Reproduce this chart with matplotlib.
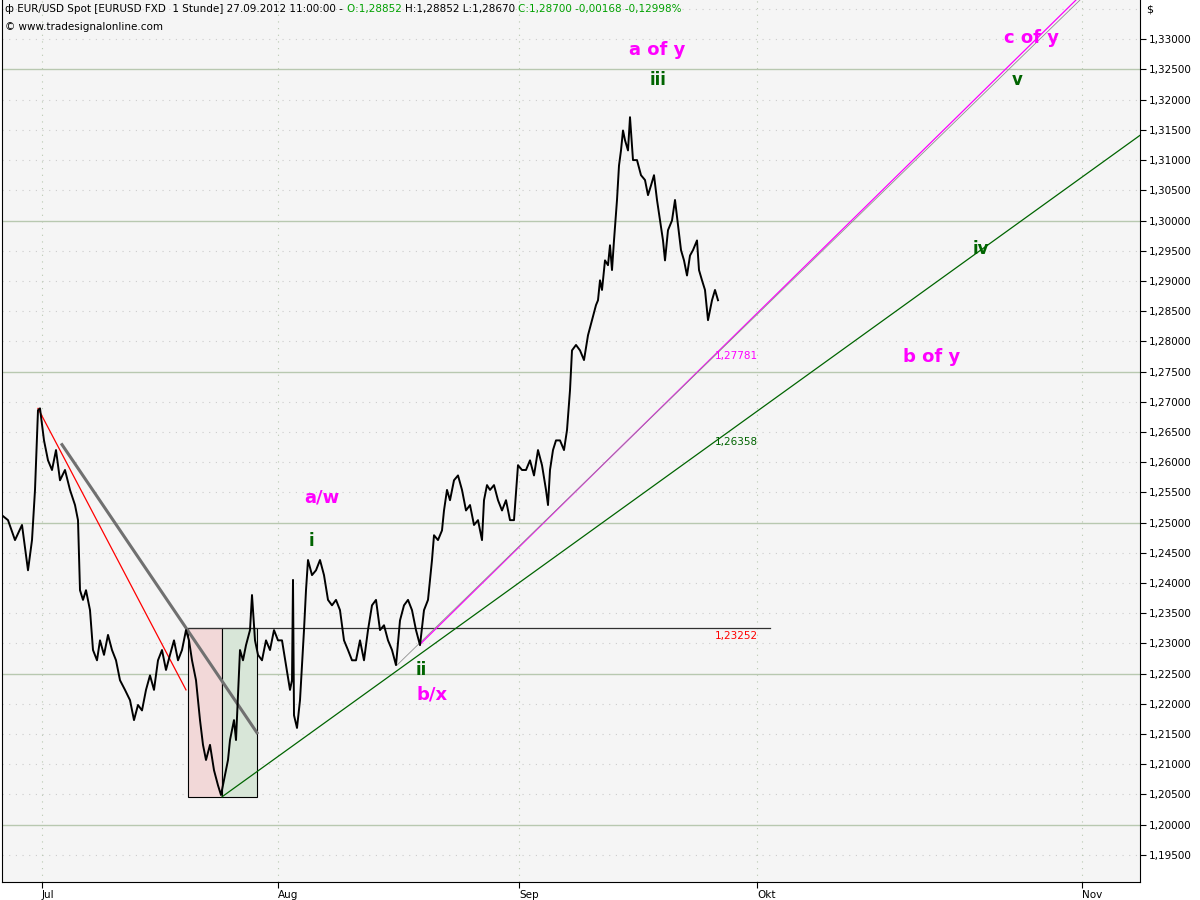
import matplotlib
matplotlib.use("Agg")
import matplotlib.pyplot as plt
from matplotlib.patches import Rectangle
import numpy as np

# chart position (bar axis units) and close prices
pos = [2, 8, 15, 22, 28, 32, 35, 38, 40, 44, 48, 52, 56, 60, 65, 70, 75, 78, 80, 83,
       86, 90, 93, 97, 100, 104, 108, 112, 116, 120, 125, 130, 134, 138, 142, 146, 150, 154, 158, 162,
       166, 170, 174, 178, 182, 186, 189, 192, 196, 198, 200, 203, 206, 210, 214, 218, 221, 224, 228, 230,
       234, 236, 240, 243, 246, 250, 252, 255, 258, 262, 266, 270, 274, 278, 282, 286, 290, 292, 293, 294,
       297, 300, 304, 306, 308, 312, 316, 320, 324, 328, 332, 336, 340, 344, 348, 352, 356, 360, 364, 368,
       372, 376, 380, 384, 388, 392, 396, 400, 404, 408, 412, 416, 420, 424, 428, 430, 432, 434, 438, 442,
       444, 447, 450, 454, 458, 462, 466, 470, 474, 478, 482, 484, 487, 490, 494, 498, 502, 506, 510, 514,
       518, 522, 526, 530, 534, 538, 542, 546, 548, 550, 553, 556, 560, 564, 567, 570, 572, 576, 580, 584,
       588, 592, 596, 598, 600, 602, 605, 608, 610, 612, 614, 617, 619, 621, 623, 625, 628, 630, 633, 637,
       641, 645, 648, 651, 654, 657, 660, 663, 665, 668, 672, 675, 678, 681, 684, 687, 690, 693, 697, 699,
       702, 705, 708, 712, 715, 718]
close = [1.2512, 1.2504, 1.2471, 1.2496, 1.2421, 1.2471, 1.2554, 1.2686, 1.2689, 1.2636, 1.2603, 1.2587, 1.2620, 1.2570, 1.2587, 1.2554, 1.2529, 1.2504, 1.2388, 1.2372,
         1.2388, 1.2355, 1.2289, 1.2272, 1.2305, 1.2281, 1.2314, 1.2289, 1.2272, 1.2239, 1.2223, 1.2206, 1.2173, 1.2198, 1.2189, 1.2223, 1.2247, 1.2223, 1.2272, 1.2289,
         1.2256, 1.2281, 1.2305, 1.2272, 1.2289, 1.2322, 1.2305, 1.2272, 1.2239, 1.2206, 1.2173, 1.2132, 1.2107, 1.2132, 1.2090, 1.2065, 1.2049, 1.2074, 1.2107, 1.2140,
         1.2173, 1.2140, 1.2289, 1.2272, 1.2297, 1.2322, 1.2380, 1.2305, 1.2281, 1.2272, 1.2305, 1.2289, 1.2322, 1.2305, 1.2305, 1.2264, 1.2223, 1.2239, 1.2405, 1.2181,
         1.2160, 1.2206, 1.2322, 1.2388, 1.2438, 1.2413, 1.2421, 1.2438, 1.2413, 1.2372, 1.2363, 1.2372, 1.2355, 1.2305, 1.2289, 1.2272, 1.2272, 1.2305, 1.2272, 1.2322,
         1.2363, 1.2372, 1.2322, 1.2330, 1.2305, 1.2289, 1.2264, 1.2338, 1.2363, 1.2372, 1.2355, 1.2322, 1.2297, 1.2355, 1.2372, 1.2405, 1.2438, 1.2479, 1.2471, 1.2487,
         1.2520, 1.2554, 1.2537, 1.2570, 1.2578, 1.2554, 1.2520, 1.2529, 1.2496, 1.2504, 1.2471, 1.2537, 1.2562, 1.2554, 1.2562, 1.2537, 1.2520, 1.2537, 1.2504, 1.2504,
         1.2595, 1.2587, 1.2587, 1.2603, 1.2578, 1.2620, 1.2595, 1.2554, 1.2529, 1.2587, 1.2620, 1.2636, 1.2636, 1.2620, 1.2653, 1.2719, 1.2785, 1.2794, 1.2785, 1.2769,
         1.2810, 1.2835, 1.2860, 1.2868, 1.2901, 1.2885, 1.2934, 1.2926, 1.2959, 1.2918, 1.2967, 1.3034, 1.3091, 1.3116, 1.3149, 1.3133, 1.3116, 1.3171, 1.3100, 1.3100,
         1.3075, 1.3067, 1.3042, 1.3058, 1.3075, 1.3034, 1.3000, 1.2967, 1.2934, 1.2984, 1.3000, 1.3034, 1.2992, 1.2951, 1.2934, 1.2909, 1.2942, 1.2951, 1.2967, 1.2918,
         1.2901, 1.2885, 1.2835, 1.2868, 1.2885, 1.2868]

month_pos = [42, 278, 519, 757, 1082]
month_labels = ["Jul", "Aug", "Sep", "Okt", "Nov"]

# trend lines: (start pos, start price, end pos, end price)
red_trend = (38, 1.2689, 186, 1.2223)
gray_trend = (62, 1.2629, 257, 1.2152)
green_trend = (222, 1.2046, 1140, 1.3141)
pink_trend = (421, 1.2300, 1076, 1.3365)
gray_thin = (397, 1.2264, 1080, 1.3365)
level = 1.23252
box_lo, box_hi = 1.2046, 1.2325
box_red = (188, 222)
box_green = (222, 257)

pink_labels = [("a of y", 657, 1.3282), ("c of y", 1032, 1.3302), ("b of y", 932, 1.2774),
               ("a/w", 322, 1.2542), ("b/x", 432, 1.2216)]
green_labels = [("iii", 658, 1.3232), ("v", 1017, 1.3232), ("iv", 981, 1.2953),
                ("i", 311, 1.2469), ("ii", 421, 1.2256)]

header = [("ф EUR/USD Spot [EURUSD FXD  1 Stunde] 27.09.2012 11:00:00 - ", "black"),
          ("O:1,28852 ", "#00a000"), ("H:1,28852 L:1,28670 ", "black"),
          ("C:1,28700 -0,00168 -0,12998%", "#00a000")]

PINK = "#ff00ff"
DGREEN = "#006400"

fig = plt.figure(figsize=(12, 9), dpi=100)
ax = fig.add_axes([2/1200, 18/900, 1138/1200, 882/900])
ax.set_facecolor("#f5f5f5")
ax.set_xlim(2, 1140)
ax.set_ylim(1.1905, 1.3365)

# grid
for t in np.arange(1.195, 1.3351, 0.005):
    if round(t * 1000) % 25 == 0:
        ax.axhline(t, color="#b8c8b0", lw=1, zorder=0)
    else:
        ax.axhline(t, color="#cccccc", lw=0.8, ls=(0, (1, 5)), zorder=0)
for m in month_pos:
    ax.axvline(m, color="#b8c8b0", lw=0.8, ls=(0, (1, 5)), zorder=0)

ax.add_patch(Rectangle((box_red[0], box_lo), box_red[1]-box_red[0], box_hi-box_lo,
                       facecolor="#f2d8d8", edgecolor="black", lw=0.8, zorder=1))
ax.add_patch(Rectangle((box_green[0], box_lo), box_green[1]-box_green[0], box_hi-box_lo,
                       facecolor="#d8e6d8", edgecolor="black", lw=0.8, zorder=1))

ax.plot([box_red[0], 770], [level, level], color="#303030", lw=0.9, zorder=2)
ax.plot(gray_trend[::2], gray_trend[1::2], color="#707070", lw=2.2, zorder=2)
ax.plot(red_trend[::2], red_trend[1::2], color="#ff0000", lw=0.9, zorder=2)
ax.plot(green_trend[::2], green_trend[1::2], color=DGREEN, lw=0.9, zorder=2)
ax.plot(pink_trend[::2], pink_trend[1::2], color=PINK, lw=0.9, zorder=2)
ax.plot(gray_thin[::2], gray_thin[1::2], color="#909090", lw=0.6, zorder=2)

ax.plot(pos, close, color="black", lw=1.4, zorder=3)

ax.text(715, 1.2775, "1,27781", color=PINK, fontsize=7.5, va="center")
ax.text(715, 1.2634, "1,26358", color=DGREEN, fontsize=7.5, va="center")
ax.text(715, 1.2313, "1,23252", color="#ff0000", fontsize=7.5, va="center")

for s, x, y in pink_labels:
    ax.text(x, y, s, color=PINK, fontsize=13, fontweight="bold", ha="center", va="center")
for s, x, y in green_labels:
    ax.text(x, y, s, color=DGREEN, fontsize=12, fontweight="bold", ha="center", va="center")

# axes
ax.yaxis.tick_right()
yt = np.arange(1.195, 1.3301, 0.005)
ax.set_yticks(yt)
ax.set_yticklabels([f"{v:.5f}".replace(".", ",") for v in yt], fontsize=7.5)
ax.tick_params(axis="y", length=4, pad=2)
ax.set_xticks(month_pos)
ax.set_xticklabels(month_labels, fontsize=7.5, ha="left")
ax.tick_params(axis="x", length=4, pad=2)
ax.spines["top"].set_visible(False)
fig.text(1146/1200, 1 - 10/900, "$", fontsize=8, va="center")

# header line, pieces chained one after another
prev = ax.text(0.003, 0.995, header[0][0], color=header[0][1], transform=ax.transAxes,
               fontsize=7.5, va="top", zorder=5)
for s, c in header[1:]:
    prev = ax.annotate(s, xy=(1, 0), xycoords=prev, color=c, fontsize=7.5, va="bottom", zorder=5)
ax.text(0.003, 0.975, "© www.tradesignalonline.com", transform=ax.transAxes, fontsize=7.5, va="top", zorder=5)

fig.savefig("out.png", dpi=100)
